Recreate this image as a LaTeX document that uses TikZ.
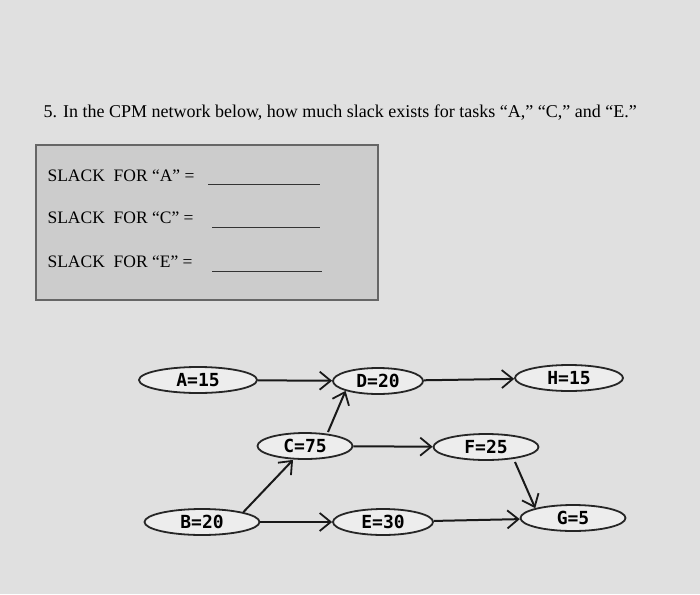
\documentclass[tikz,border=0pt]{standalone}
\usepackage{fontspec}
\setmainfont{Liberation Serif}
\newfontfamily\monof{DejaVu Sans Mono}
\usetikzlibrary{arrows.meta,shapes.geometric}
\begin{document}
\begin{tikzpicture}[x=1pt,y=-1pt,
  task/.style={draw=black!85,line width=1.8pt,ellipse,fill=black!7,inner sep=0pt,minimum height=26pt,font=\monof\bfseries\fontsize{18}{18}\selectfont},
  link/.style={draw=black!90,line width=2pt,-{Straight Barb[length=11pt,width=18pt,line width=1.8pt]}},
  slack/.style={anchor=west,font=\fontsize{17.5}{17.5}\selectfont},
  blank/.style={draw=black!80,line width=0.7pt}]
\fill[black!12] (0,0) rectangle (700,594);
\useasboundingbox (0,0) rectangle (700,594);
\node[anchor=west,font=\fontsize{18}{18}\selectfont] (q) at (40,113) {5. In the CPM network below, how much slack exists for tasks “A,” “C,” and “E.”};
\draw[draw=black!60,line width=2pt,fill=black!20] (36,145) rectangle (378,300);
\node[slack] (sa) at (44,176) {SLACK\ \ FOR “A” =};
\node[slack] (sc) at (44,218) {SLACK\ \ FOR “C” =};
\node[slack] (se) at (44,262) {SLACK\ \ FOR “E” =};
\coordinate (ua1) at (208,184); \coordinate (ua2) at (320,184);
\coordinate (uc1) at (212,227); \coordinate (uc2) at (320,227);
\coordinate (ue1) at (212,271); \coordinate (ue2) at (322,271);
\draw[blank] (ua1) -- (ua2); \draw[blank] (uc1) -- (uc2); \draw[blank] (ue1) -- (ue2);
\node[task,minimum width=118pt] (A) at (198,380) {A=15};
\node[task,minimum width=90pt] (D) at (378,381) {D=20};
\node[task,minimum width=108pt] (H) at (569,378) {H=15};
\node[task,minimum width=95pt] (C) at (305,446) {C=75};
\node[task,minimum width=105pt] (F) at (486,447) {F=25};
\node[task,minimum width=115pt] (B) at (202,522) {B=20};
\node[task,minimum width=100pt] (E) at (383,522) {E=30};
\node[task,minimum width=105pt] (G) at (573,518) {G=5};
\coordinate (c1) at (328,432);
\coordinate (f1) at (515,462);
\draw[link] (A) -- (D);
\draw[link] (D) -- (H);
\draw[link] (c1) -- (D.south west);
\draw[link] (C) -- (F);
\draw[link] (f1) -- (G.north west);
\draw[link] (B.north east) -- ([xshift=-12pt]C.south);
\draw[link] (B) -- (E);
\draw[link] (E) -- (G);
\end{tikzpicture}
\end{document}
